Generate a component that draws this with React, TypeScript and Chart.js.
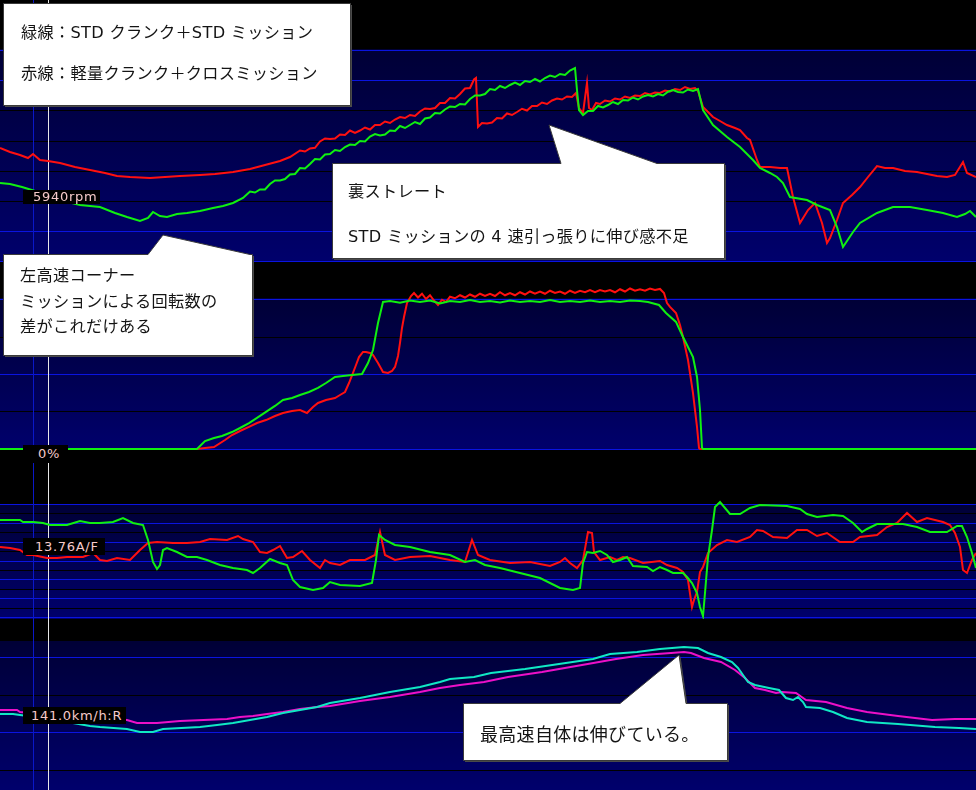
import React, { useEffect, useRef } from "react";
import { Chart, registerables } from "chart.js";

Chart.register(...registerables);

type Pt = [number, number];

// ---------- Panel 1 : engine speed (rpm) ----------
const rpmGreen: Pt[] = [
  [0, 6200], [10, 6180], [22, 6120], [35, 6040], [48, 5940], [60, 5860], [80, 5760], [100, 5720],
  [115, 5600], [127, 5520], [140, 5440], [148, 5500], [153, 5620], [160, 5540], [167, 5520], [177, 5580],
  [187, 5600], [200, 5640], [213, 5700], [223, 5740], [233, 5800], [243, 5900],
  [250, 6030], [255, 6010], [260, 6070], [265, 6070], [270, 6180], [275, 6250], [280, 6250], [285, 6280],
  [290, 6370], [295, 6380], [300, 6500], [305, 6490], [310, 6580], [315, 6680], [320, 6670], [325, 6770],
  [330, 6780], [335, 6860], [340, 6840], [345, 6920], [350, 6970], [355, 6960], [360, 7040], [365, 7030],
  [370, 7130], [375, 7180], [380, 7150], [385, 7170], [390, 7250], [395, 7240], [400, 7340], [405, 7300],
  [410, 7360], [415, 7420], [420, 7380], [425, 7490], [430, 7510], [435, 7600], [440, 7590], [445, 7670],
  [450, 7730], [455, 7720], [460, 7780], [465, 7770], [470, 7880], [475, 7950], [480, 7950], [485, 7980],
  [490, 8080], [495, 8060], [500, 8140], [505, 8100], [510, 8160], [515, 8210], [520, 8160], [525, 8240],
  [530, 8220], [535, 8280], [540, 8230], [545, 8300], [550, 8350], [555, 8320], [560, 8380], [565, 8360],
  [570, 8450], [575, 8500],
  [577, 8060], [579, 7660], [583, 7560], [588, 7640], [593, 7640], [598, 7740], [603, 7710], [608, 7760],
  [613, 7820], [618, 7780], [623, 7860], [628, 7850], [633, 7910], [638, 7870], [643, 7930], [648, 7960],
  [653, 7930], [658, 7980], [663, 7950], [668, 8025], [673, 8060], [678, 8020], [683, 8010], [688, 8070],
  [693, 8040], [698, 8080],
  [703, 7660], [713, 7360], [727, 7120], [740, 6920], [753, 6660], [760, 6500],
  [770, 6400], [777, 6320], [783, 6200], [790, 5920], [807, 5860], [817, 5760], [830, 5660], [837, 5320],
  [843, 4920], [853, 5220], [860, 5400], [877, 5600], [893, 5720], [910, 5720], [927, 5660], [943, 5600],
  [957, 5520], [965, 5580], [970, 5640], [976, 5520],
];
const rpmRed: Pt[] = [
  [0, 6900], [10, 6820], [20, 6760], [28, 6700], [33, 6780], [40, 6660], [48, 6640], [60, 6600],
  [75, 6520], [90, 6460], [105, 6400], [117, 6340], [130, 6320], [150, 6300], [165, 6320], [180, 6340],
  [200, 6360], [215, 6380], [233, 6420], [250, 6480], [265, 6560], [280, 6640], [290, 6720],
  [300, 6850], [305, 6830], [310, 6890], [315, 6905], [320, 7030], [325, 7090], [330, 7080], [335, 7090],
  [340, 7170], [345, 7160], [350, 7250], [355, 7200], [360, 7250], [365, 7310], [370, 7270], [375, 7360],
  [380, 7360], [385, 7430], [390, 7400], [395, 7470], [400, 7520], [405, 7500], [410, 7560], [415, 7540],
  [420, 7630], [425, 7690], [430, 7680], [435, 7700], [440, 7800], [445, 7800], [450, 7900], [455, 7890],
  [460, 7980], [465, 8090], [470, 8100], [474, 8270], [476, 8300],
  [478, 7320], [482, 7400], [487, 7390], [492, 7410], [497, 7500], [502, 7490], [507, 7590], [512, 7560],
  [517, 7620], [522, 7685], [527, 7650], [532, 7740], [537, 7740], [542, 7810], [547, 7780], [552, 7850],
  [557, 7890], [562, 7870], [567, 7930], [572, 7920], [576, 8000],
  [579, 7700], [583, 7600], [585, 7900], [587, 8200], [589, 7700], [592, 7660], [596, 7800], [600, 7780],
  [605, 7850], [610, 7830], [615, 7890], [620, 7870], [625, 7930], [630, 7900], [635, 7950], [640, 7940],
  [645, 8000], [650, 7970], [655, 8010], [660, 8000], [665, 8050], [670, 8030], [675, 8080], [680, 8060],
  [685, 8120], [690, 8080], [695, 8100], [698, 8040],
  [703, 7720], [713, 7520], [720, 7440],
  [727, 7360], [735, 7300], [740, 7260], [747, 7100], [750, 7060], [757, 6660], [760, 6520], [770, 6520],
  [780, 6500], [787, 6500], [793, 5920], [800, 5400], [808, 5660], [815, 5800], [822, 5400], [827, 5000],
  [830, 5100], [837, 5460], [843, 5800], [852, 5960], [860, 6120], [868, 6320], [877, 6540], [885, 6500],
  [893, 6500], [905, 6440], [917, 6420], [927, 6380], [937, 6340], [947, 6320], [955, 6360], [963, 6620],
  [967, 6400], [976, 6320],
];
const rpmGrid = [8860, 8260, 7660, 7040, 6440, 5840, 5240, 4640];
const rpmGridKind = ["b", "b", "k", "k", "k", "k", "b", "b"];

// ---------- Panel 2 : throttle (%) ----------
const thrGreen: Pt[] = [
  [0, 0], [197, 0], [205, 5.3], [214, 7.3], [222, 8.7], [232, 11.3], [240, 14], [249, 17.3],
  [257, 20.7], [266, 24.7], [275, 28.7], [283, 32.7], [292, 34], [300, 36], [309, 38], [318, 40.7],
  [326, 44], [335, 48], [343, 48.7], [352, 49.3], [362, 50], [368, 57.3], [373, 66], [378, 84],
  [383, 98], [390, 98.7], [400, 97.5], [410, 99], [420, 98], [430, 99], [440, 97], [450, 98.7],
  [460, 98], [470, 99.3], [480, 98], [490, 98.7], [500, 97.7], [510, 99], [520, 98], [530, 98.7],
  [540, 98], [550, 99.3], [560, 98], [570, 98.7], [580, 98], [590, 99], [600, 98], [610, 98.7],
  [620, 98], [630, 99], [640, 98.7], [648, 98], [659, 96], [666, 90.7], [676, 84.7], [683, 74.7],
  [688, 68], [693, 61.3], [697, 48], [700, 26], [702, 0.7], [703, 0], [976, 0],
];
const thrRed: Pt[] = [
  [0, 0], [197, 0], [205, 0.7], [214, 1.3], [225, 6], [232, 9.3], [240, 12], [249, 14.7],
  [257, 17.3], [266, 19.3], [275, 22], [283, 24], [292, 25.3], [300, 26], [307, 24], [313, 28],
  [318, 30.7], [326, 32.7], [335, 34], [340, 36], [345, 38], [349, 44], [353, 50.7], [356, 56],
  [359, 61.3], [363, 64.7], [366, 64.7], [370, 64], [373, 62.7], [378, 57.3], [383, 51.3], [388, 50.7],
  [392, 52], [395, 54.7], [398, 62], [400, 70.7], [402, 80.7], [404, 88], [407, 97.3], [411, 102],
  [414, 104], [418, 101], [422, 103.5], [426, 100], [430, 102.5], [434, 99], [438, 96], [442, 99.5],
  [446, 98], [450, 101.5], [455, 100.5], [460, 102.5], [465, 101], [470, 103], [475, 101.5], [480, 103.5],
  [485, 102], [490, 103.5], [495, 102], [500, 104.5], [505, 102.5], [510, 104], [515, 102.5], [520, 104.5],
  [525, 103], [530, 105], [535, 103.5], [540, 105], [545, 103.5], [550, 105.5], [555, 104], [560, 105],
  [565, 103.5], [570, 105.5], [575, 104], [580, 105.5], [585, 104.5], [590, 106], [595, 104.5], [600, 106],
  [605, 105], [610, 106], [615, 104.5], [620, 106.5], [625, 105], [630, 107], [635, 105.5], [640, 106.5],
  [645, 105.5], [650, 107], [655, 106], [660, 106.7], [664, 104], [667, 97.3], [670, 94.7], [676, 90.7],
  [680, 82.7], [683, 74.7], [688, 59.3], [693, 37.3], [697, 14.7], [699, 0.7], [700, 0], [976, 0],
];
const thrGrid = [100, 75, 50, 25, 0];
const thrGridKind = ["b", "k", "b", "k", "b"];

// ---------- Panel 3 : air/fuel ratio ----------
const afGreen: Pt[] = [
  [0, 15.0], [20, 15.0], [23, 14.9], [33, 14.9], [43, 14.85], [50, 14.75], [67, 14.75], [80, 14.95],
  [90, 14.85], [100, 14.85], [113, 14.9], [123, 15.1], [133, 14.85], [143, 14.75], [148, 14.0], [153, 12.9],
  [157, 12.55], [160, 12.75], [163, 13.5], [167, 13.6], [177, 13.4], [187, 13.15], [197, 13.15], [207, 13.0],
  [220, 12.75], [233, 12.6], [247, 12.5], [253, 12.35], [260, 12.6], [270, 13.05], [280, 12.85], [287, 12.75],
  [293, 12.0], [300, 11.65], [313, 11.5], [323, 11.6], [330, 11.9], [340, 11.75], [360, 11.7], [372, 11.85],
  [376, 13.0], [379, 14.25], [385, 14.0], [395, 13.75], [410, 13.65], [430, 13.4], [450, 13.25], [465, 12.9],
  [475, 13.0], [485, 12.75], [500, 12.6], [520, 12.35], [540, 12.1], [560, 11.6], [573, 11.5], [580, 11.6],
  [583, 12.85], [587, 13.4], [593, 13.35], [600, 13.45], [607, 13.25], [613, 12.9], [620, 13.0], [627, 13.15],
  [633, 12.7], [647, 12.65], [653, 12.45], [660, 12.65], [667, 12.5], [673, 12.35], [683, 12.35], [687, 12.15],
  [692, 11.85], [697, 11.35], [700, 10.65], [703, 10.2], [705, 11.35], [708, 13.15], [712, 14.5], [715, 15.65],
  [720, 15.9], [725, 15.6], [730, 15.3], [740, 15.3], [750, 15.6], [760, 15.75], [787, 15.7], [800, 15.55],
  [807, 15.3], [817, 15.15], [833, 15.25], [843, 15.2], [853, 14.85], [862, 14.4], [867, 14.55], [877, 14.8],
  [893, 14.8], [903, 14.8], [917, 14.65], [930, 14.4], [947, 14.4], [957, 14.7], [962, 14.7], [967, 14.15],
  [972, 13.35], [976, 12.6],
];
const afRed: Pt[] = [
  [0, 13.65], [10, 13.6], [20, 13.5], [27, 13.25], [33, 13.25], [47, 13.1], [57, 13.1], [67, 13.15],
  [83, 13.15], [93, 13.35], [100, 13.0], [107, 12.95], [117, 13.1], [130, 13.0], [140, 13.5], [148, 13.85],
  [157, 13.9], [173, 13.85], [187, 13.85], [200, 13.9], [210, 14.05], [227, 14.0], [238, 14.2], [243, 14.05],
  [253, 13.9], [260, 13.4], [267, 13.35], [273, 13.5], [280, 13.7], [287, 13.1], [293, 13.15], [302, 13.45],
  [310, 13.0], [320, 12.6], [325, 13.0], [330, 12.85], [340, 12.75], [350, 13.0], [365, 13.0], [375, 13.25],
  [380, 14.4], [385, 13.25], [395, 13.0], [410, 13.15], [430, 13.2], [450, 13.0], [465, 12.9], [472, 14.0],
  [478, 13.25], [490, 13.0], [510, 12.85], [530, 12.9], [550, 12.7], [560, 12.9], [565, 13.1], [570, 12.85],
  [577, 12.6], [583, 13.0], [588, 14.4], [592, 14.35], [594, 13.4], [600, 13.0], [610, 13.15], [617, 13.0],
  [623, 13.15], [630, 13.1], [643, 12.85], [660, 12.95], [667, 12.75], [677, 12.6], [683, 12.4], [688, 12.0],
  [692, 10.65], [694, 11.0], [697, 11.4], [700, 12.4], [703, 12.65], [708, 13.35], [717, 13.75], [727, 14.0],
  [737, 13.9], [750, 14.15], [757, 14.5], [763, 14.45], [773, 14.15], [787, 14.1], [797, 14.5], [807, 14.5],
  [817, 14.2], [827, 14.35], [840, 13.9], [853, 13.9], [860, 14.15], [877, 14.25], [887, 14.65], [897, 14.85],
  [907, 15.35], [917, 14.9], [927, 15.1], [943, 14.9], [950, 14.75], [955, 14.35], [960, 13.65], [963, 12.5],
  [967, 12.35], [972, 13.0], [976, 13.35],
];
const afGrid = [15.8, 15.33, 14.86, 14.39, 13.92, 13.45, 12.97, 12.5, 12.03, 11.56, 11.09, 10.62, 10.15];
const afGridKind = ["b", "k", "b", "k", "b", "k", "b", "k", "b", "k", "b", "k", "b"];

// ---------- Panel 4 : vehicle speed (km/h) ----------
const spdCyan: Pt[] = [
  [0, 141], [13, 141], [20, 140.5], [50, 138.5], [90, 135], [100, 134.5], [127, 133.5], [140, 132],
  [153, 132], [163, 133.5], [200, 134.5], [217, 135.5], [233, 136.5], [250, 138], [267, 139.5], [283, 141.5],
  [300, 143], [317, 144.5], [330, 146.5], [360, 149], [390, 152], [420, 154.5], [440, 157], [450, 158.5],
  [474, 159.5], [491, 161.5], [525, 163.5], [559, 166], [593, 168.5], [610, 171], [637, 172], [660, 173.5],
  [684, 174.5], [698, 174], [708, 171.5], [721, 169.5], [732, 167], [738, 164], [743, 160.5], [748, 157],
  [755, 155.5], [769, 154], [779, 153], [786, 149], [793, 148], [798, 149.5], [803, 147], [806, 144.5],
  [820, 144], [833, 142], [847, 139], [867, 137], [898, 136], [935, 134.5], [959, 134], [976, 133.5],
];
const spdMagenta: Pt[] = [
  [0, 143], [17, 143], [20, 142], [50, 140.5], [127, 138], [137, 136.5], [157, 136.5], [180, 137.5],
  [227, 138.5], [240, 139.5], [253, 140], [267, 141], [283, 142], [300, 143.5], [317, 144.5], [330, 145],
  [360, 147.5], [390, 149.5], [420, 152], [440, 154], [460, 155.5], [484, 157], [508, 159.5], [542, 162],
  [582, 165.5], [616, 168.5], [643, 170.5], [671, 171.5], [684, 172], [691, 171.5], [704, 169], [721, 167],
  [735, 163], [745, 159], [755, 154], [765, 153], [776, 151.5], [782, 152], [796, 151.5], [806, 148],
  [826, 147], [847, 144], [867, 142], [898, 140], [932, 138], [955, 138.5], [976, 138.5],
];
const spdGrid = [169.5, 150.75, 132, 113.25];
const spdGridKind = ["b", "k", "b", "k"];

// cursor / marker positions along the lap (same x units as the data)
const cursorX = 48;
const markerX = 33;

// read-outs at the cursor
const readouts = ["5940rpm", "0%", "13.76A/F", "141.0km/h:R"];

const GREEN = "#10f010";
const RED = "#ff1010";
const CYAN = "#10e8c4";
const MAGENTA = "#ec10c8";
const GRID_BLUE = "#0a14e0";

const X_MAX = 976;

const panels = [
  { top: 0, height: 262, min: 4620, max: 9860, header: 49, grid: rpmGrid, kind: rpmGridKind,
    series: [{ pts: rpmGreen, color: GREEN }, { pts: rpmRed, color: RED }] },
  { top: 262, height: 188, min: -0.667, max: 124.667, header: 36, grid: thrGrid, kind: thrGridKind,
    series: [{ pts: thrGreen, color: GREEN }, { pts: thrRed, color: RED }] },
  { top: 450, height: 169, min: 10.05, max: 18.5, header: 54, grid: afGrid, kind: afGridKind,
    series: [{ pts: afGreen, color: GREEN }, { pts: afRed, color: RED }] },
  { top: 619, height: 171, min: 103, max: 188.5, header: 22, grid: spdGrid, kind: spdGridKind,
    series: [{ pts: spdCyan, color: CYAN }, { pts: spdMagenta, color: MAGENTA }] },
];

const bgPlugin = {
  id: "panelBg",
  beforeDraw(chart: any, _args: any, opts: any) {
    const { ctx, chartArea, scales } = chart;
    const { left, right, top, bottom } = chartArea;
    ctx.save();
    ctx.fillStyle = "#000";
    ctx.fillRect(0, 0, chart.width, chart.height);
    const hb = top + opts.header;
    const g = ctx.createLinearGradient(0, hb, 0, bottom);
    g.addColorStop(0, "#000036");
    g.addColorStop(1, "#00006c");
    ctx.fillStyle = g;
    ctx.fillRect(left, hb, right - left, bottom - hb);
    ctx.lineWidth = 1;
    (opts.grid as number[]).forEach((v: number, i: number) => {
      const py = Math.round(scales.y.getPixelForValue(v)) + 0.5;
      ctx.strokeStyle = opts.kind[i] === "b" ? GRID_BLUE : "#000000";
      ctx.beginPath();
      ctx.moveTo(left, py);
      ctx.lineTo(right, py);
      ctx.stroke();
    });
    const mx = Math.round(scales.x.getPixelForValue(markerX)) + 0.5;
    ctx.strokeStyle = "#0a18c8";
    ctx.beginPath();
    ctx.moveTo(mx, 0);
    ctx.lineTo(mx, chart.height);
    ctx.stroke();
    const cx = Math.round(scales.x.getPixelForValue(cursorX)) + 0.5;
    ctx.strokeStyle = "#e8e8e8";
    ctx.beginPath();
    ctx.moveTo(cx, 0);
    ctx.lineTo(cx, chart.height);
    ctx.stroke();
    ctx.restore();
  },
};

const readoutBoxes = [
  { left: 23, top: 190, width: 77, height: 14, pad: 10 },
  { left: 23, top: 445, width: 45, height: 18, pad: 15 },
  { left: 23, top: 538, width: 82, height: 17, pad: 12 },
  { left: 23, top: 707, width: 103, height: 17, pad: 8 },
];

const JP = '"DejaVu Sans", "Noto Sans CJK JP", sans-serif';

const notes = [
  { left: 21, top: 21, size: 16.2, lh: 24, text: "緑線：STD クランク＋STD ミッション" },
  { left: 21, top: 62, size: 16.2, lh: 24, text: "赤線：軽量クランク＋クロスミッション" },
  { left: 20, top: 264, size: 16.2, lh: 24, text: "左高速コーナー" },
  { left: 20, top: 290, size: 16.2, lh: 24, text: "ミッションによる回転数の" },
  { left: 20, top: 315, size: 16.2, lh: 24, text: "差がこれだけある" },
  { left: 348, top: 180, size: 16.2, lh: 24, text: "裏ストレート" },
  { left: 348, top: 225, size: 16.2, lh: 24, text: "STD ミッションの 4 速引っ張りに伸び感不足" },
  { left: 480, top: 722, size: 18, lh: 26, text: "最高速自体は伸びている。" },
];

const calloutPaths = [
  "M3.5,3.5 L350.5,3.5 L350.5,105.5 L3.5,105.5 Z",
  "M3.5,254.5 L148,254.5 L163,235 L250,254.5 L252.5,254.5 L252.5,355.5 L3.5,355.5 Z",
  "M332.5,163.5 L561,163.5 L549,125 L657,163.5 L724.5,163.5 L724.5,258.5 L332.5,258.5 Z",
  "M463.5,703.5 L620,703.5 L679,655 L686,703.5 L727.5,703.5 L727.5,760.5 L463.5,760.5 Z",
];

export default function App() {
  const refs = [useRef<HTMLCanvasElement>(null), useRef<HTMLCanvasElement>(null),
    useRef<HTMLCanvasElement>(null), useRef<HTMLCanvasElement>(null)];

  useEffect(() => {
    const charts = panels.map((p, i) => {
      const canvas = refs[i].current as HTMLCanvasElement;
      return new Chart(canvas, {
        type: "line",
        data: {
          datasets: p.series.map((s) => ({
            data: s.pts.map(([x, y]) => ({ x, y })),
            borderColor: s.color,
            borderWidth: 2,
            pointRadius: 0,
            tension: 0,
            fill: false,
          })),
        },
        options: {
          animation: false,
          responsive: false,
          maintainAspectRatio: false,
          events: [],
          layout: { padding: 0 },
          plugins: {
            legend: { display: false },
            tooltip: { enabled: false },
            panelBg: { header: p.header, grid: p.grid, kind: p.kind },
          } as any,
          scales: {
            x: { type: "linear", min: 0, max: X_MAX, display: false },
            y: { type: "linear", min: p.min, max: p.max, display: false },
          },
        },
        plugins: [bgPlugin as any],
      });
    });
    return () => charts.forEach((c) => c.destroy());
  }, []);

  return (
    <div style={{ position: "fixed", left: 0, top: 0, width: 976, height: 790, overflow: "hidden", background: "#000" }}>
      {panels.map((p, i) => (
        <canvas key={i} ref={refs[i]} width={976} height={p.height}
          style={{ position: "absolute", left: 0, top: p.top, width: 976, height: p.height, display: "block" }} />
      ))}
      {readoutBoxes.map((b, i) => (
        <div key={"r" + i} style={{
          position: "absolute", left: b.left, top: b.top, width: b.width, height: b.height,
          background: "#000", color: "#f6caca", font: '13px "DejaVu Sans", sans-serif',
          letterSpacing: "0.7px", lineHeight: b.height + "px", paddingLeft: b.pad, boxSizing: "border-box",
          whiteSpace: "nowrap",
        }}>{readouts[i]}</div>
      ))}
      <svg width={976} height={790} style={{ position: "absolute", left: 0, top: 0 }}>
        {calloutPaths.map((d, i) => (
          <g key={"c" + i}>
            <path d={d} transform="translate(1.5,1.5)" fill="#4a4a4a" />
            <path d={d} fill="#ffffff" stroke="#3a3a3a" strokeWidth={1} />
          </g>
        ))}
      </svg>
      {notes.map((n, i) => (
        <div key={"n" + i} style={{
          position: "absolute", left: n.left, top: n.top, fontFamily: JP, fontSize: n.size,
          lineHeight: n.lh + "px", color: "#141414", whiteSpace: "nowrap", letterSpacing: "0.3px",
        }}>{n.text}</div>
      ))}
    </div>
  );
}
